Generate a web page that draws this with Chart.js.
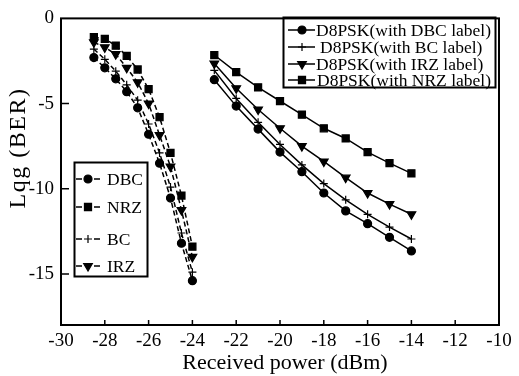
<!DOCTYPE html>
<html>
<head>
<meta charset="utf-8">
<script src="https://cdn.jsdelivr.net/npm/chart.js@4.4.0/dist/chart.umd.min.js"></script>
<style>
  html, body { margin: 0; padding: 0; background: #fff; }
</style>
</head>
<body>
<canvas id="chart" width="519" height="376"></canvas>
<script>
// Axis ticks
const xTicks = [-30, -28, -26, -24, -22, -20, -18, -16, -14, -12, -10];
const yTicks = [0, -5, -10, -15];

// Left group (dashed curves)
const leftPower = [-28.5, -28, -27.5, -27, -26.5, -26, -25.5, -25, -24.5, -24];
const leftDBC = [-2.3, -2.9, -3.55, -4.3, -5.25, -6.8, -8.5, -10.55, -13.2, -15.4];
const leftNRZ = [-1.1, -1.2, -1.6, -2.2, -3.0, -4.15, -5.8, -7.9, -10.4, -13.4];
const leftBC = [-1.8, -2.4, -3.1, -3.9, -4.8, -6.2, -7.9, -9.9, -12.6, -14.9];
const leftIRZ = [-1.4, -1.7, -2.1, -2.9, -3.75, -5.0, -6.85, -8.7, -11.25, -14.0];

// Right group (D8PSK, solid curves)
const rightPower = [-23, -22, -21, -20, -19, -18, -17, -16, -15, -14];
const rightDBC = [-3.6, -5.15, -6.5, -7.85, -9.0, -10.25, -11.3, -12.05, -12.85, -13.65];
const rightBC = [-3.05, -4.7, -6.1, -7.4, -8.6, -9.7, -10.65, -11.5, -12.25, -12.95];
const rightIRZ = [-2.65, -4.1, -5.35, -6.45, -7.5, -8.4, -9.35, -10.25, -10.9, -11.5];
const rightNRZ = [-2.15, -3.15, -4.05, -4.85, -5.65, -6.45, -7.05, -7.85, -8.5, -9.1];

const FONT = "'Liberation Serif', 'Times New Roman', serif";

// marker look per label type
const markers = {
  DBC: { pointStyle: "circle", radius: 4, rotation: 0 },
  NRZ: { pointStyle: "rect", radius: 5, rotation: 0 },
  BC: { pointStyle: "cross", radius: 4, rotation: 0 },
  IRZ: { pointStyle: "triangle", radius: 5, rotation: 180 }
};

function makeSet(label, xs, ys, key, dashed) {
  const m = markers[key];
  return {
    label: label,
    data: xs.map((x, i) => ({ x: x, y: ys[i] })),
    borderColor: "#000",
    backgroundColor: "#000",
    borderWidth: 1.5,
    borderDash: dashed ? [5, 3] : [],
    pointStyle: m.pointStyle,
    pointRadius: m.radius,
    pointRotation: m.rotation,
    pointBorderWidth: 1.2,
    pointBackgroundColor: "#000",
    pointBorderColor: "#000",
    tension: 0
  };
}

const datasets = [
  makeSet("DBC", leftPower, leftDBC, "DBC", true),
  makeSet("NRZ", leftPower, leftNRZ, "NRZ", true),
  makeSet("BC", leftPower, leftBC, "BC", true),
  makeSet("IRZ", leftPower, leftIRZ, "IRZ", true),
  makeSet("D8PSK(with DBC label)", rightPower, rightDBC, "DBC", false),
  makeSet("D8PSK(with BC label)", rightPower, rightBC, "BC", false),
  makeSet("D8PSK(with IRZ label)", rightPower, rightIRZ, "IRZ", false),
  makeSet("D8PSK(with NRZ label)", rightPower, rightNRZ, "NRZ", false)
];

function drawMarker(ctx, key, x, y) {
  const m = markers[key];
  ctx.fillStyle = "#000";
  ctx.strokeStyle = "#000";
  ctx.lineWidth = 1.2;
  ctx.setLineDash([]);
  Chart.helpers.drawPoint(ctx, { pointStyle: m.pointStyle, radius: m.radius, rotation: m.rotation, borderWidth: 1.2 }, x, y);
}

// frame, inward ticks, titles and the two legends
const decorPlugin = {
  id: "decor",
  afterDraw(chart) {
    const ctx = chart.ctx;
    const a = chart.chartArea;
    const xs = chart.scales.x;
    const ys = chart.scales.y;
    ctx.save();
    ctx.strokeStyle = "#000";
    ctx.lineWidth = 2;
    ctx.setLineDash([]);
    ctx.strokeRect(a.left, a.top, a.right - a.left, a.bottom - a.top);

    ctx.lineWidth = 1.5;
    ctx.beginPath();
    xs.ticks.forEach(t => {
      const px = xs.getPixelForValue(t.value);
      if (px > a.left + 1 && px < a.right - 1) {
        ctx.moveTo(px, a.bottom);
        ctx.lineTo(px, a.bottom - 5);
      }
    });
    ys.ticks.forEach(t => {
      const py = ys.getPixelForValue(t.value);
      if (py > a.top + 1 && py < a.bottom - 1) {
        ctx.moveTo(a.left, py);
        ctx.lineTo(a.left + 8, py);
      }
    });
    ctx.stroke();

    // axis titles
    ctx.fillStyle = "#000";
    ctx.font = "22px " + FONT;
    ctx.textAlign = "center";
    ctx.textBaseline = "middle";
    ctx.fillText("Received power (dBm)", 285, 363);

    ctx.save();
    ctx.translate(19, 148);
    ctx.rotate(-Math.PI / 2);
    ctx.font = "24px " + FONT;
    ctx.letterSpacing = "1.5px";
    ctx.fillText("Lqg (BER)", 0, 0);
    ctx.restore();

    // right legend (solid)
    ctx.lineWidth = 2;
    ctx.strokeRect(283.5, 17.5, 212, 70);
    const rightRows = [
      ["DBC", "D8PSK(with DBC label)", 30, 316],
      ["BC", "D8PSK(with BC label)", 47, 320],
      ["IRZ", "D8PSK(with IRZ label)", 64, 316],
      ["NRZ", "D8PSK(with NRZ label)", 80, 317]
    ];
    ctx.font = "17.5px " + FONT;
    ctx.textAlign = "left";
    rightRows.forEach(r => {
      ctx.lineWidth = 1.5;
      ctx.setLineDash([]);
      ctx.beginPath();
      ctx.moveTo(288, r[2]);
      ctx.lineTo(315, r[2]);
      ctx.stroke();
      drawMarker(ctx, r[0], 302, r[2]);
      ctx.fillStyle = "#000";
      ctx.fillText(r[1], r[3], r[2] + 1);
    });

    // left legend (dashed)
    ctx.lineWidth = 2;
    ctx.strokeRect(74.5, 162.5, 73, 114);
    const leftRows = [
      ["DBC", 179],
      ["NRZ", 207],
      ["BC", 239],
      ["IRZ", 266]
    ];
    leftRows.forEach(r => {
      ctx.lineWidth = 1.5;
      ctx.setLineDash([]);
      ctx.beginPath();
      ctx.moveTo(76, r[1]);
      ctx.lineTo(82, r[1]);
      ctx.moveTo(94, r[1]);
      ctx.lineTo(100, r[1]);
      ctx.stroke();
      drawMarker(ctx, r[0], 88, r[1]);
      ctx.fillStyle = "#000";
      ctx.fillText(r[0], 107, r[1] + 1);
    });
    ctx.restore();
  }
};

const chart = new Chart(document.getElementById("chart").getContext("2d"), {
  type: "line",
  data: { datasets: datasets },
  options: {
    responsive: false,
    animation: false,
    layout: { padding: { top: 14, right: 20, left: 0, bottom: 0 } },
    plugins: {
      legend: { display: false },
      tooltip: { enabled: false }
    },
    scales: {
      x: {
        type: "linear",
        min: -30,
        max: -10,
        grid: { display: false, drawTicks: false },
        border: { display: false },
        afterBuildTicks: s => { s.ticks = xTicks.map(v => ({ value: v })); },
        afterFit: s => { s.height = 51; },
        ticks: {
          color: "#000",
          padding: 5,
          maxRotation: 0,
          font: { family: FONT, size: 19 },
          callback: v => String(v)
        }
      },
      y: {
        type: "linear",
        min: -18,
        max: 0,
        grid: { display: false, drawTicks: false },
        border: { display: false },
        afterBuildTicks: s => { s.ticks = yTicks.map(v => ({ value: v })); },
        afterFit: s => { s.width = 61; },
        ticks: {
          color: "#000",
          padding: 7,
          font: { family: FONT, size: 19 },
          callback: v => String(v)
        }
      }
    }
  },
  plugins: [decorPlugin]
});
</script>
</body>
</html>
